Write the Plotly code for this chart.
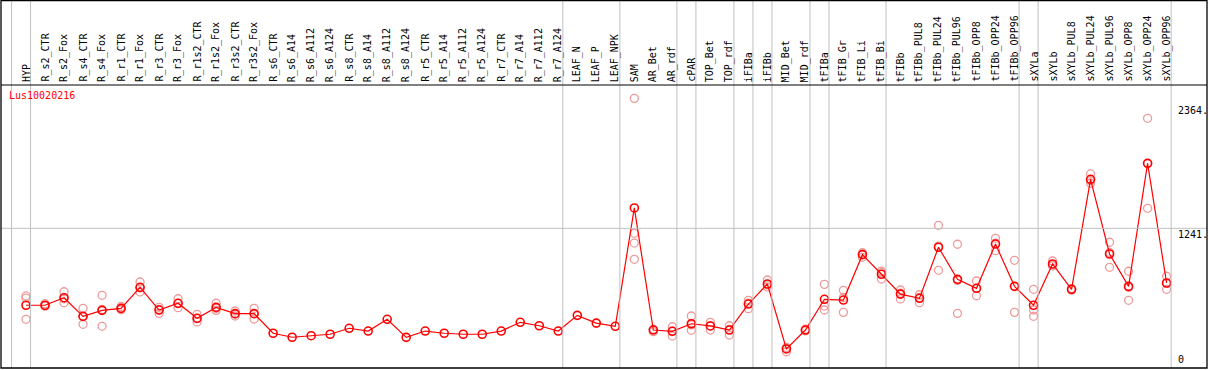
import plotly.graph_objects as go

# ---------------- data ----------------
categories = ["HYP", "R_s2_CTR", "R_s2_Fox", "R_s4_CTR", "R_s4_Fox", "R_r1_CTR", "R_r1_Fox",
              "R_r3_CTR", "R_r3_Fox", "R_r1s2_CTR", "R_r1s2_Fox", "R_r3s2_CTR", "R_r3s2_Fox",
              "R_s6_CTR", "R_s6_A14", "R_s6_A112", "R_s6_A124", "R_s8_CTR", "R_s8_A14",
              "R_s8_A112", "R_s8_A124", "R_r5_CTR", "R_r5_A14", "R_r5_A112", "R_r5_A124",
              "R_r7_CTR", "R_r7_A14", "R_r7_A112", "R_r7_A124", "LEAF_N", "LEAF_P", "LEAF_NPK",
              "SAM", "AR_Bet", "AR_rdf", "cPAR", "TOP_Bet", "TOP_rdf", "iFIBa", "iFIBb",
              "MID_Bet", "MID_rdf", "tFIBa", "tFIB_Gr", "tFIB_Li", "tFIB_Bi", "tFIBb",
              "tFIBb_PUL8", "tFIBb_PUL24", "tFIBb_PUL96", "tFIBb_OPP8", "tFIBb_OPP24",
              "tFIBb_OPP96", "sXYLa", "sXYLb", "sXYLb_PUL8", "sXYLb_PUL24", "sXYLb_PUL96",
              "sXYLb_OPP8", "sXYLb_OPP24", "sXYLb_OPP96"]

means = [546, 546, 614, 446, 500, 518, 708, 503, 564, 428, 527, 470, 470,
         293, 257, 271, 284, 338, 313, 419, 256, 313, 293, 284, 284,
         313, 392, 361, 313, 455, 385, 356,
         1425, 322, 311, 379, 359, 322, 557, 738, 151, 322,
         600, 593, 1003, 826, 647, 609, 1070, 780, 699, 1099, 717,
         546, 919, 690, 1684, 1009, 717, 1828, 747]

replicates = [
    [630, 611, 419], [560, 540, 538], [668, 569, 605], [518, 374, 446], [636, 356, 508],
    [535, 505, 514], [756, 666, 702], [527, 473, 509], [605, 524, 563], [464, 395, 425],
    [564, 500, 517], [494, 449, 467], [518, 422, 470],
    [], [], [], [], [], [], [], [], [], [], [], [], [], [], [], [], [], [], [],
    [2415, 1196, 1108, 961], [307, 330, 325], [352, 268, 313], [449, 320, 370],
    [392, 322, 362], [361, 277, 328], [591, 515, 565], [774, 730, 712], [126, 165, 160],
    [315, 330, 322],
    [735, 539, 503], [681, 482, 616], [1021, 979, 1009], [855, 783, 840], [684, 603, 655],
    [641, 569, 617], [1268, 862, 1080], [1097, 473, 770], [765, 632, 700], [1151, 1039, 1107],
    [952, 482, 717],
    [690, 503, 446], [946, 910, 901], [683, 697, 690], [1732, 1648, 1672], [1115, 889, 1023],
    [853, 591, 707], [2235, 1422, 1827], [808, 690, 743]]

# separator lines drawn after these categories (None = before first)
group_ends = [None, "HYP", "R_r7_A124", "LEAF_NPK", "AR_rdf", "cPAR", "TOP_rdf", "iFIBa",
              "iFIBb", "MID_rdf", "tFIBa", "tFIB_Bi", "tFIBb_OPP96", "sXYLa", "sXYLb_OPP96"]

tick_values = [2364, 1241, 0]
tick_labels = ["2364.", "1241.", "0"]
title_text = "Lus10020216"

# ---------------- geometry ----------------
W, H = 1209, 370
X0_PX, DX_PX = 26.0, 19.01          # pixel of first category, spacing
Y0_PX, DY_PX = 365.7, 0.1107        # pixel of value 0, px per unit
HEADER_PX = 85
BOTTOM_PX = 368
LEFT_PX, RIGHT_PX = 1, 1207

xr = [-X0_PX / DX_PX, (W - X0_PX) / DX_PX]
yr = [(Y0_PX - H) / DY_PX, Y0_PX / DY_PX]


def px(x):
    return x / W


def py(y):
    return 1 - y / H


font_name = "DejaVu Sans Mono"
idx = list(range(len(categories)))

fig = go.Figure()

# replicate points
rx, ry = [], []
for i, reps in enumerate(replicates):
    for v in reps:
        rx.append(i)
        ry.append(v)
fig.add_trace(go.Scatter(x=rx, y=ry, mode="markers",
                         marker=dict(symbol="circle-open", size=8, color="#ee9a9a",
                                     line=dict(width=1.3, color="#ee9a9a")),
                         hoverinfo="skip", showlegend=False))

# mean line
fig.add_trace(go.Scatter(x=idx, y=means, mode="lines+markers",
                         line=dict(color="#ff0000", width=1.2),
                         marker=dict(symbol="circle-open", size=8, color="#ff0000",
                                     line=dict(width=1.6, color="#ff0000")),
                         text=categories, showlegend=False))

shapes = []
# vertical group separators
for g in group_ends:
    i = -1 if g is None else categories.index(g)
    xv = i + 0.24
    shapes.append(dict(type="line", xref="x", yref="paper", x0=xv, x1=xv,
                       y0=py(BOTTOM_PX), y1=py(0), line=dict(color="#c0c0c0", width=1)))
# horizontal grid at middle tick
shapes.append(dict(type="line", xref="paper", yref="y", x0=px(LEFT_PX), x1=px(RIGHT_PX),
                   y0=tick_values[1], y1=tick_values[1], line=dict(color="#c0c0c0", width=1)))
# header separator
shapes.append(dict(type="line", xref="paper", yref="paper", x0=px(LEFT_PX), x1=px(RIGHT_PX),
                   y0=py(HEADER_PX), y1=py(HEADER_PX), line=dict(color="black", width=1)))
# border
shapes.append(dict(type="rect", xref="paper", yref="paper", x0=px(LEFT_PX), x1=px(RIGHT_PX),
                   y0=py(BOTTOM_PX), y1=py(0.5), line=dict(color="black", width=1.3)))

annotations = []
for i, c in enumerate(categories):
    annotations.append(dict(x=i, xref="x", y=py(HEADER_PX - 2), yref="paper", text=c,
                            textangle=-90, showarrow=False, xanchor="center", yanchor="bottom",
                            borderpad=0, font=dict(family=font_name, size=10, color="black")))
annotations.append(dict(x=px(8), xref="paper", y=py(89), yref="paper", text=title_text,
                        showarrow=False, xanchor="left", yanchor="top", borderpad=0,
                        font=dict(family=font_name, size=10, color="#ff0000")))
for v, t in zip(tick_values, tick_labels):
    annotations.append(dict(x=px(1177), xref="paper", y=v, yref="y", text=t,
                            showarrow=False, xanchor="left",
                            yanchor="bottom" if v == 0 else "top", borderpad=0,
                            font=dict(family=font_name, size=10, color="black")))

fig.update_layout(width=W, height=H, autosize=False,
                  margin=dict(l=0, r=0, t=0, b=0, pad=0),
                  paper_bgcolor="white", plot_bgcolor="white",
                  xaxis=dict(range=xr, visible=False, fixedrange=True),
                  yaxis=dict(range=yr, visible=False, fixedrange=True),
                  shapes=shapes, annotations=annotations, showlegend=False)

fig.write_html("out.html", config={"displayModeBar": False},
               post_script="document.body.style.margin='0';document.body.style.overflow='hidden';")
